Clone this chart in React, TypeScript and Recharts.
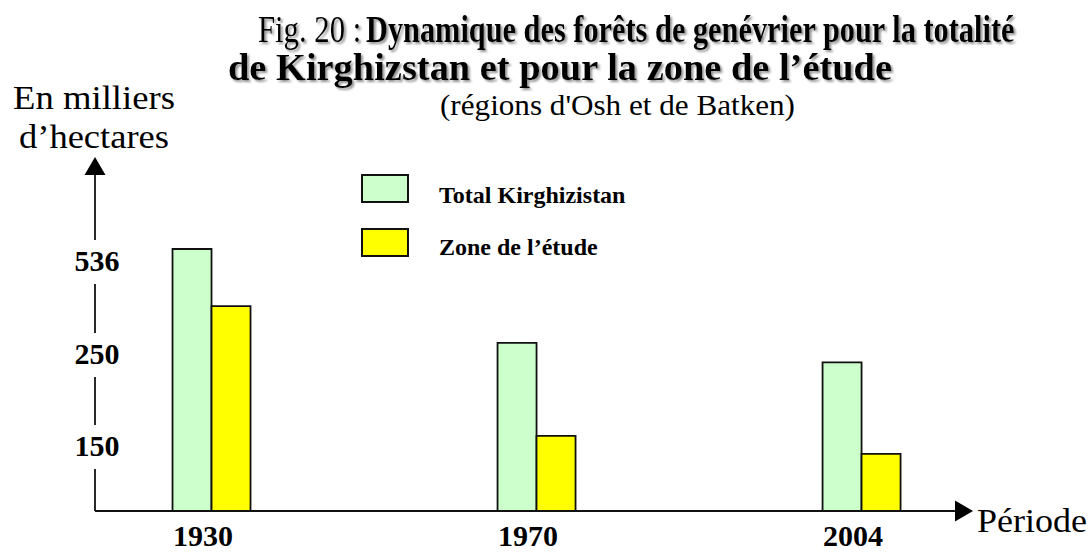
import { BarChart, Bar, XAxis, YAxis, Legend } from 'recharts'

const FONT = '"Liberation Serif", "Times New Roman", Times, serif'

const PERIODS = ['1930', '1970', '2004']
const TOTAL_KIRGHIZSTAN = [576, 287, 242]
const ZONE_ETUDE = [400, 162, 134]
const Y_TICKS = [150, 250, 536]

// the original axis is not linear: each labelled value sits at its own height
const SCALE_VALUES = [0, 150, 250, 536]
const SCALE_HEIGHTS = [0, 64, 156, 249]

function toAxis(v: number) {
  let i = 1
  while (i < SCALE_VALUES.length - 1 && v > SCALE_VALUES[i]) i++
  const v0 = SCALE_VALUES[i - 1]
  const v1 = SCALE_VALUES[i]
  const h0 = SCALE_HEIGHTS[i - 1]
  const h1 = SCALE_HEIGHTS[i]
  return h0 + ((v - v0) * (h1 - h0)) / (v1 - v0)
}

const data = PERIODS.map((period, i) => ({
  slot: i,
  period,
  total: toAxis(TOTAL_KIRGHIZSTAN[i]),
  zone: toAxis(ZONE_ETUDE[i]),
}))

const axisStyle = {
  stroke: '#111',
  strokeWidth: 1.8,
}

function YTick(props: any) {
  const { x, y, payload } = props
  const label = Y_TICKS.find((t) => Math.abs(toAxis(t) - payload.value) < 0.01)
  return (
    <g>
      <rect x={x - 28} y={y - 22} width={56} height={44} fill="#fff" />
      <text
        x={x + 2}
        y={y + 9}
        textAnchor="middle"
        fontFamily={FONT}
        fontWeight="bold"
        fontSize={30}
        fill="#000"
      >
        {label}
      </text>
    </g>
  )
}

function XTick(props: any) {
  const { x, y, payload } = props
  return (
    <text
      x={x - 8}
      y={y + 35}
      textAnchor="middle"
      fontFamily={FONT}
      fontWeight="bold"
      fontSize={30}
      fill="#000"
    >
      {PERIODS[payload.value]}
    </text>
  )
}

function YLabel(props: any) {
  const { viewBox } = props
  const ax = viewBox.x + viewBox.width - 1
  return (
    <g fontFamily={FONT} fontSize={33} fill="#000">
      <text x={ax} y={viewBox.y - 66} textAnchor="middle" textLength={162} lengthAdjust="spacingAndGlyphs">
        En milliers
      </text>
      <text x={ax} y={viewBox.y - 27} textAnchor="middle" textLength={150} lengthAdjust="spacingAndGlyphs">
        d’hectares
      </text>
    </g>
  )
}

function XLabel(props: any) {
  const { viewBox } = props
  return (
    <text
      x={viewBox.x + viewBox.width + 22}
      y={viewBox.y + 21}
      fontFamily={FONT}
      fontSize={33}
      fill="#000"
      textLength={110}
      lengthAdjust="spacingAndGlyphs"
    >
      Période
    </text>
  )
}

function LegendBoxes(props: any) {
  const { payload } = props
  return (
    <svg width={320} height={100}>
      {(payload || []).map((entry: any, i: number) => (
        <g key={entry.value}>
          <rect
            x={12}
            y={10 + i * 54}
            width={46}
            height={27}
            fill={entry.color}
            stroke="#111"
            strokeWidth={2}
          />
          <text
            x={89}
            y={38 + i * 52}
            fontFamily={FONT}
            fontWeight="bold"
            fontSize={24}
            fill="#000"
          >
            {entry.value}
          </text>
        </g>
      ))}
    </svg>
  )
}

export default function App() {
  return (
    <div style={{ position: 'absolute', left: 0, top: 0, width: 1091, height: 553, background: '#fff' }}>
      <svg
        width={1091}
        height={553}
        style={{ position: 'absolute', left: 0, top: 0, pointerEvents: 'none', zIndex: 2 }}
      >
        <defs>
          <marker
            id="arrowHead"
            markerWidth={18}
            markerHeight={21}
            refX={0}
            refY={10.5}
            orient="auto-start-reverse"
            markerUnits="userSpaceOnUse"
            style={{ overflow: 'visible' }}
          >
            <path d="M0,0 L18,10.5 L0,21 Z" fill="#000" />
          </marker>
          <filter id="titleShadow" x="-5%" y="-20%" width="110%" height="140%">
            <feDropShadow dx={2} dy={2} stdDeviation={0.8} floodColor="#777" floodOpacity={0.8} />
          </filter>
        </defs>
        <g fontFamily={FONT} fill="#000" filter="url(#titleShadow)" style={{ whiteSpace: 'pre' }}>
          {/* the first title line is set condensed in the original */}
          <text transform="translate(258,42) scale(0.83,1)" x={0} y={0} fontSize={37}>
            Fig. 20 :
          </text>
          <text transform="translate(366,42) scale(0.82,1)" x={0} y={0} fontSize={37} fontWeight="bold">
            Dynamique des forêts de genévrier pour la totalité
          </text>
          <text
            x={228}
            y={80}
            fontSize={37}
            fontWeight="bold"
            textLength={664}
            lengthAdjust="spacingAndGlyphs"
          >
            de Kirghizstan et  pour  la zone de l’étude
          </text>
        </g>
        <text
          x={440}
          y={115}
          fontFamily={FONT}
          fontSize={29}
          fill="#000"
          textLength={355}
          lengthAdjust="spacingAndGlyphs"
        >
          (régions d'Osh et de Batken)
        </text>
      </svg>
      <BarChart
        width={1091}
        height={553}
        data={data}
        margin={{ top: 175, right: 136, bottom: 0, left: 35 }}
        barGap={0}
        barSize={39}
      >
        <XAxis
          type="number"
          dataKey="slot"
          domain={[-0.357, 2.289]}
          ticks={[0, 1, 2]}
          interval={0}
          height={42}
          tickSize={0}
          tickMargin={0}
          tickLine={false}
          tick={<XTick />}
          axisLine={{ ...axisStyle, markerEnd: 'url(#arrowHead)' }}
          label={(p: any) => <XLabel {...p} />}
          allowDataOverflow
        />
        <YAxis
          type="number"
          domain={[0, 336]}
          ticks={Y_TICKS.map(toAxis)}
          interval={0}
          width={60}
          tickSize={0}
          tickMargin={0}
          tickLine={false}
          tick={<YTick />}
          axisLine={{ ...axisStyle, markerStart: 'url(#arrowHead)' }}
          label={(p: any) => <YLabel {...p} />}
          allowDataOverflow
        />
        <Legend
          layout="vertical"
          verticalAlign="middle"
          align="center"
          wrapperStyle={{ left: 350, top: 165, width: 320, height: 100 }}
          content={<LegendBoxes />}
        />
        <Bar
          dataKey="total"
          name="Total Kirghizistan"
          fill="#CCFFCC"
          stroke="#111"
          strokeWidth={1.8}
          isAnimationActive={false}
        />
        <Bar
          dataKey="zone"
          name="Zone de l’étude"
          fill="#FFFF00"
          stroke="#111"
          strokeWidth={1.8}
          isAnimationActive={false}
        />
      </BarChart>
    </div>
  )
}
